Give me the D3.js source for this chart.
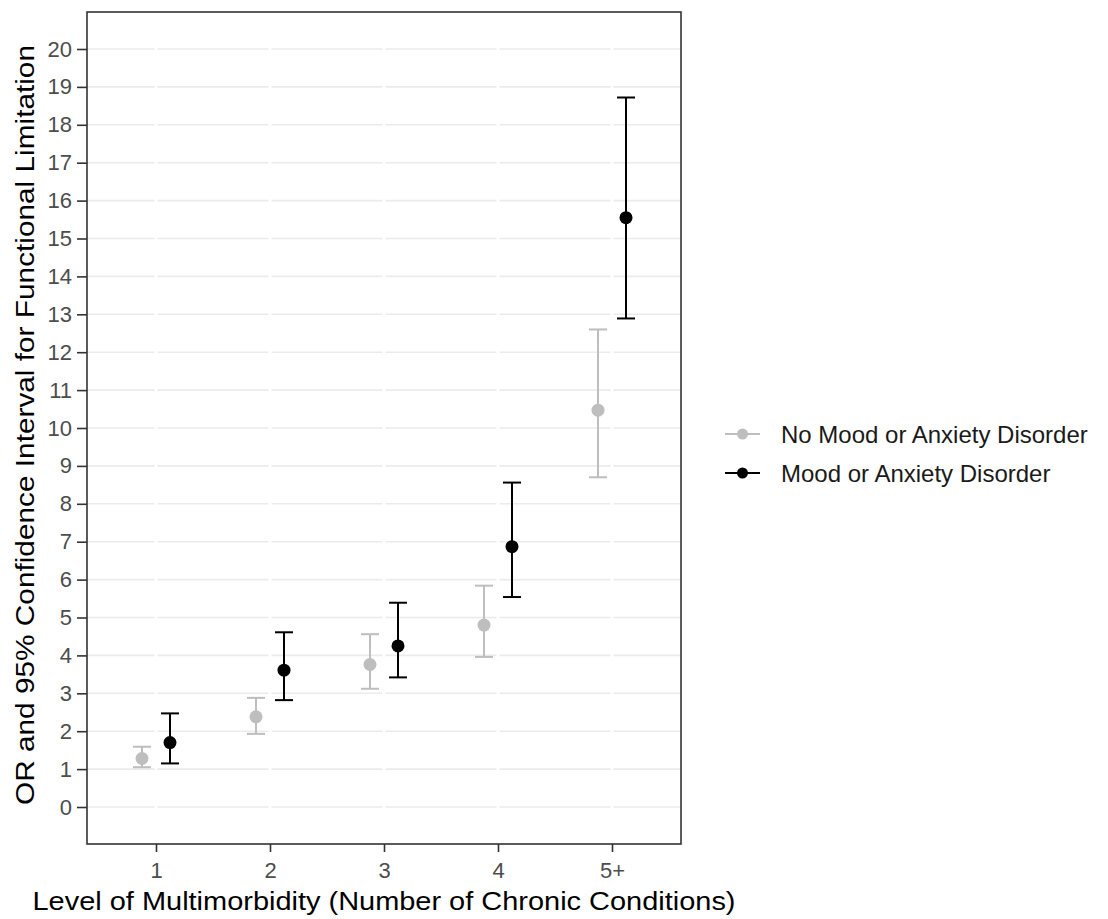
<!DOCTYPE html>
<html>
<head>
<meta charset="utf-8">
<script src="https://cdn.jsdelivr.net/npm/d3@7"></script>
<style>
  body { margin: 0; background: #fff; }
  svg { display: block; font-family: "Liberation Sans", Arial, sans-serif; }
</style>
</head>
<body>
<svg id="chart" width="1108" height="919"></svg>
<script>
// Data
const categories = ['1', '2', '3', '4', '5+'];
const groups = ['No Mood or Anxiety Disorder', 'Mood or Anxiety Disorder'];
const noMoodOR = [1.28, 2.38, 3.76, 4.80, 10.47];
const noMoodLow = [1.05, 1.93, 3.12, 3.96, 8.70];
const noMoodHigh = [1.59, 2.88, 4.56, 5.84, 12.60];
const moodOR = [1.70, 3.61, 4.25, 6.87, 15.55];
const moodLow = [1.15, 2.82, 3.42, 5.54, 12.89];
const moodHigh = [2.47, 4.61, 5.39, 8.56, 18.72];
const yTicks = d3.range(0, 21);

const colors = { [groups[0]]: '#bebebe', [groups[1]]: '#000000' };

const rows = [];
categories.forEach((c, i) => {
  rows.push({ cat: c, group: groups[0], or: noMoodOR[i], lo: noMoodLow[i], hi: noMoodHigh[i] });
  rows.push({ cat: c, group: groups[1], or: moodOR[i], lo: moodLow[i], hi: moodHigh[i] });
});

const svg = d3.select('#chart');
const panel = { left: 87, top: 12, right: 681, bottom: 844 };

// scales
const x = d3.scalePoint()
  .domain(categories)
  .range([156, 612]);
const dodge = d3.scaleBand()
  .domain(groups)
  .range([-28, 28])
  .paddingInner(0);
const y = d3.scaleLinear()
  .domain([-0.976, 20.976])
  .range([panel.bottom, panel.top]);

const xPos = (d) => x(d.cat) + dodge(d.group) + dodge.bandwidth() / 2;

// gridlines
const grid = svg.append('g');
grid.selectAll('line.h')
  .data(yTicks)
  .join('line')
  .attr('class', 'h')
  .attr('x1', panel.left).attr('x2', panel.right)
  .attr('y1', (d) => y(d)).attr('y2', (d) => y(d))
  .attr('stroke', '#ebebeb')
  .attr('stroke-width', 1.6);
grid.selectAll('line.v')
  .data(categories)
  .join('line')
  .attr('class', 'v')
  .attr('x1', (d) => x(d)).attr('x2', (d) => x(d))
  .attr('y1', panel.top).attr('y2', panel.bottom)
  .attr('stroke', '#ffffff')
  .attr('stroke-width', 3);

// error bars
const capHalf = 9;
const bars = svg.append('g').selectAll('g')
  .data(rows)
  .join('g')
  .attr('stroke', (d) => colors[d.group])
  .attr('stroke-width', 2);
bars.append('line')
  .attr('x1', xPos).attr('x2', xPos)
  .attr('y1', (d) => y(d.lo)).attr('y2', (d) => y(d.hi));
bars.append('line')
  .attr('x1', (d) => xPos(d) - capHalf).attr('x2', (d) => xPos(d) + capHalf)
  .attr('y1', (d) => y(d.hi)).attr('y2', (d) => y(d.hi));
bars.append('line')
  .attr('x1', (d) => xPos(d) - capHalf).attr('x2', (d) => xPos(d) + capHalf)
  .attr('y1', (d) => y(d.lo)).attr('y2', (d) => y(d.lo));

// points
svg.append('g').selectAll('circle')
  .data(rows)
  .join('circle')
  .attr('cx', xPos)
  .attr('cy', (d) => y(d.or))
  .attr('r', 6.5)
  .attr('fill', (d) => colors[d.group]);

// panel border
svg.append('rect')
  .attr('x', panel.left).attr('y', panel.top)
  .attr('width', panel.right - panel.left)
  .attr('height', panel.bottom - panel.top)
  .attr('fill', 'none')
  .attr('stroke', '#333333')
  .attr('stroke-width', 1.6);

// axes
const yAxis = svg.append('g')
  .attr('transform', `translate(${panel.left},0)`)
  .call(d3.axisLeft(y).tickValues(yTicks).tickSize(10).tickPadding(5));
const xAxis = svg.append('g')
  .attr('transform', `translate(0,${panel.bottom})`)
  .call(d3.axisBottom(x).tickSize(8).tickPadding(10));
[xAxis, yAxis].forEach((a) => {
  a.select('.domain').remove();
  a.selectAll('.tick line').attr('stroke', '#333333').attr('stroke-width', 1.6);
  a.selectAll('.tick text')
    .attr('fill', '#4d4d4d')
    .style('font-size', '22px')
    .style('font-family', '"Liberation Sans", Arial, sans-serif');
});

// axis titles
svg.append('text')
  .attr('x', 384).attr('y', 910)
  .attr('text-anchor', 'middle')
  .attr('fill', '#000')
  .style('font-size', '26px')
  .attr('textLength', 703)
  .attr('lengthAdjust', 'spacingAndGlyphs')
  .text('Level of Multimorbidity (Number of Chronic Conditions)');
svg.append('text')
  .attr('transform', 'translate(34,425) rotate(-90)')
  .attr('text-anchor', 'middle')
  .attr('fill', '#000')
  .style('font-size', '26px')
  .attr('textLength', 760)
  .attr('lengthAdjust', 'spacingAndGlyphs')
  .text('OR and 95% Confidence Interval for Functional Limitation');

// legend
const legend = svg.append('g').selectAll('g')
  .data(groups)
  .join('g')
  .attr('transform', (d, i) => `translate(725,${434 + i * 39})`);
legend.append('line')
  .attr('x1', 0).attr('x2', 35)
  .attr('stroke', (d) => colors[d])
  .attr('stroke-width', 2);
legend.append('circle')
  .attr('cx', 17.5).attr('r', 5.5)
  .attr('fill', (d) => colors[d]);
legend.append('text')
  .attr('x', 56).attr('y', 8.5)
  .attr('fill', '#1a1a1a')
  .style('font-size', '24px')
  .text((d) => d);
</script>
</body>
</html>
